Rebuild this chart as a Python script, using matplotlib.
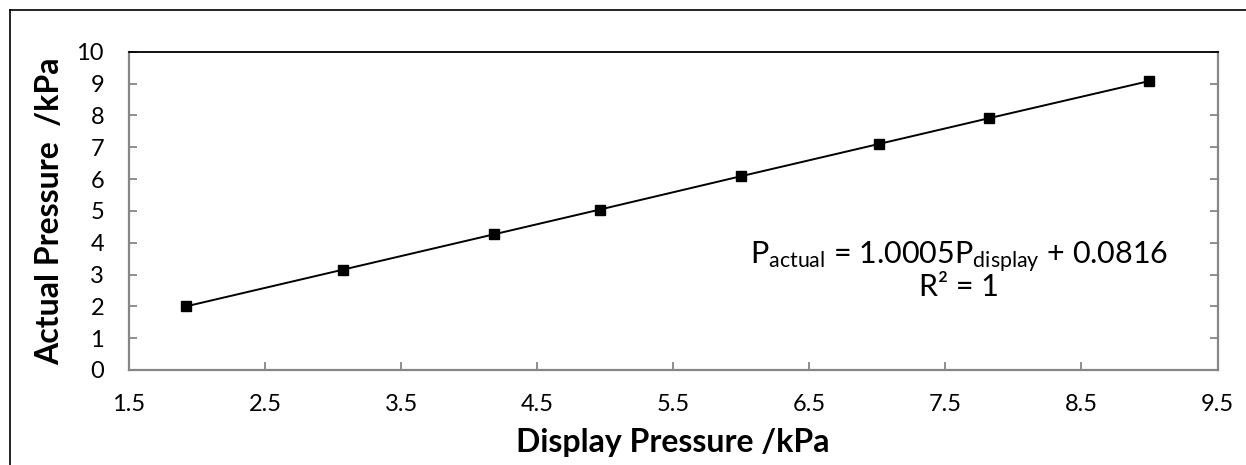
import matplotlib
matplotlib.use("Agg")
import matplotlib.pyplot as plt
from matplotlib.lines import Line2D

plt.rcParams['font.family'] = ['Lato', 'DejaVu Sans']
plt.rcParams['mathtext.default'] = 'regular'

# calibration readings (kPa)
display_p = [1.92, 3.07, 4.18, 4.96, 6.00, 7.01, 7.82, 9.00]
actual_p = [2.00, 3.15, 4.26, 5.04, 6.09, 7.10, 7.91, 9.08]

x_ticks = [1.5, 2.5, 3.5, 4.5, 5.5, 6.5, 7.5, 8.5, 9.5]
y_ticks = list(range(0, 11))

W, H = 1246, 465
fig = plt.figure(figsize=(W / 100, H / 100), dpi=100)
ax = fig.add_axes([129 / W, 1 - 370 / H, 1088.5 / W, 318.3 / H])

ax.plot(display_p, actual_p, color='black', lw=1.4, marker='s',
        markersize=7.6, markerfacecolor='black', markeredgecolor='black')

ax.set_xlim(1.5, 9.5)
ax.set_ylim(0, 10)
ax.set_xticks(x_ticks)
ax.set_xticklabels([f"{t:.1f}" for t in x_ticks])
ax.set_yticks(y_ticks)

gray = '#868686'
for side in ['left', 'bottom', 'right']:
    ax.spines[side].set_color(gray)
    ax.spines[side].set_linewidth(1.6)
ax.spines['top'].set_color('black')
ax.spines['top'].set_linewidth(1.3)

ax.tick_params(axis='both', direction='in', length=6, width=1.3,
               color=gray, labelsize=17)
ax.tick_params(axis='y', right=True, pad=18)
ax.tick_params(axis='x', pad=17)

ax.set_xlabel('Display Pressure /kPa', fontsize=23, fontweight='bold')
ax.xaxis.set_label_coords(0.5, -(452 - 370) / 318.3)
ax.xaxis.label.set_va('baseline')
ax.set_ylabel('Actual Pressure  /kPa', fontsize=23, fontweight='bold')
ax.yaxis.set_label_coords(-(129 - 50) / 1088.5, 0.5)
ax.yaxis.label.set_va('center')

# fitted line equation
ax.text(7.60, 3.31, 'P$_{actual}$ = 1.0005P$_{display}$ + 0.0816',
        fontsize=22, ha='center', va='baseline')
ax.text(7.60, 2.31, 'R\u00b2 = 1', fontsize=22, ha='center', va='baseline')

# chart frame
fig.add_artist(Line2D([10 / W, 10 / W], [0, 1 - 10 / H],
                      transform=fig.transFigure, color='black', lw=1.2))
fig.add_artist(Line2D([10 / W, 1], [1 - 10 / H, 1 - 10 / H],
                      transform=fig.transFigure, color='black', lw=1.2))

fig.savefig('out.png', dpi=100)
